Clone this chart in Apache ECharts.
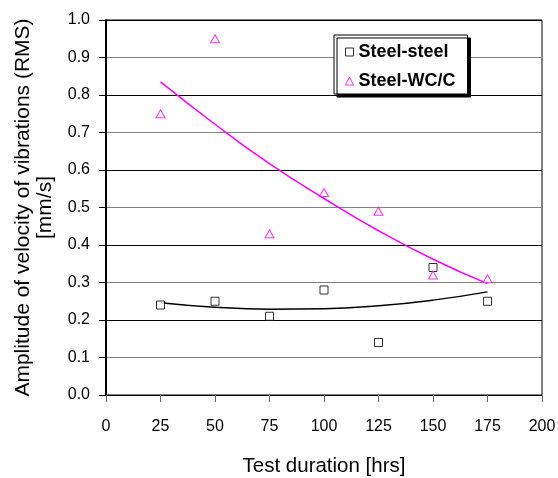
<!DOCTYPE html>
<html>
<head>
<meta charset="utf-8">
<script src="https://cdn.jsdelivr.net/npm/echarts@6/dist/echarts.min.js"></script>
<style>
html,body{margin:0;padding:0;background:#fff;}
#chart{width:558px;height:478px;}
</style>
</head>
<body>
<div id="chart"></div>
<script>
// Measured data
var hours = [25, 50, 75, 100, 125, 150, 175];
var steelSteel = [0.24, 0.25, 0.21, 0.28, 0.14, 0.34, 0.25];
var steelWCC = [0.75, 0.95, 0.43, 0.54, 0.49, 0.32, 0.31];
// Trend lines
var trendSteelSteel = [0.246, 0.234, 0.229, 0.230, 0.238, 0.253, 0.275];
var trendSteelWCC = [0.835, 0.722, 0.617, 0.524, 0.438, 0.362, 0.297];
var seriesNames = ['Steel-steel', 'Steel-WC/C'];
var xTitle = 'Test duration [hrs]';
var yTitle = 'Amplitude of velocity of vibrations (RMS)\n[mm/s]';

function pairs(xs, ys) { return xs.map(function (x, i) { return [x, ys[i]]; }); }

var FONT = 'Liberation Sans, Arial, sans-serif';
var chart = echarts.init(document.getElementById('chart'), null, {renderer: 'canvas'});
chart.setOption({
  animation: false,
  backgroundColor: '#fff',
  grid: {left: 106, right: 16, top: 20, bottom: 83, show: true, borderColor: '#000', borderWidth: 1,
    backgroundColor: 'transparent', containLabel: false, outerBoundsMode: 'none'},
  legend: {
    orient: 'vertical', left: 334, top: 35,
    data: seriesNames,
    padding: [8, 12, 4, 11], itemGap: 11, itemWidth: 8, itemHeight: 8,
    itemStyle: {color: '#fff', borderWidth: 1},
    textStyle: {fontSize: 18, fontWeight: 'bold', fontFamily: FONT, color: '#000'},
    backgroundColor: '#fff', borderColor: '#000', borderWidth: 1,
    shadowColor: '#000', shadowOffsetX: 3, shadowOffsetY: 3, shadowBlur: 0
  },
  xAxis: {
    type: 'value', min: 0, max: 200, interval: 25,
    name: xTitle, nameLocation: 'middle', nameGap: 61,
    nameTextStyle: {fontSize: 20.5, fontFamily: FONT, color: '#000'},
    axisLine: {lineStyle: {color: '#000', width: 1}},
    axisTick: {show: true, length: 7, lineStyle: {color: '#666'}},
    axisLabel: {fontSize: 16, fontFamily: FONT, color: '#000', margin: 24},
    splitLine: {show: false}
  },
  yAxis: {
    type: 'value', min: 0, max: 1, interval: 0.1,
    name: yTitle, nameLocation: 'middle', nameGap: 50, nameRotate: 90,
    nameTextStyle: {fontSize: 21, fontFamily: FONT, color: '#000', lineHeight: 22, align: 'center'},
    axisLine: {show: true, lineStyle: {color: '#000', width: 2}},
    axisTick: {show: true, length: 7, lineStyle: {color: '#000'}},
    axisLabel: {fontSize: 16, fontFamily: FONT, color: '#000', margin: 16,
      formatter: function (v) { return v.toFixed(1); }},
    splitLine: {show: true, lineStyle: {color: ['#000', '#808080'], width: 1}}
  },
  series: [
    {
      name: seriesNames[0], type: 'scatter', data: pairs(hours, steelSteel),
      symbol: 'rect', symbolSize: 8,
      itemStyle: {color: '#fff', borderColor: '#000', borderWidth: 1}, z: 5
    },
    {
      name: seriesNames[1], type: 'scatter', data: pairs(hours, steelWCC),
      symbol: 'triangle', symbolSize: [9, 8],
      itemStyle: {color: '#fff', borderColor: '#ff00ff', borderWidth: 1}, z: 5
    },
    {
      name: 'trend1', type: 'line', data: pairs(hours, trendSteelSteel),
      smooth: true, showSymbol: false, silent: true,
      lineStyle: {color: '#000', width: 1.5}, z: 3
    },
    {
      name: 'trend2', type: 'line', data: pairs(hours, trendSteelWCC),
      smooth: true, showSymbol: false, silent: true,
      lineStyle: {color: '#ff00ff', width: 1.5}, z: 3
    }
  ]
});
</script>
</body>
</html>
